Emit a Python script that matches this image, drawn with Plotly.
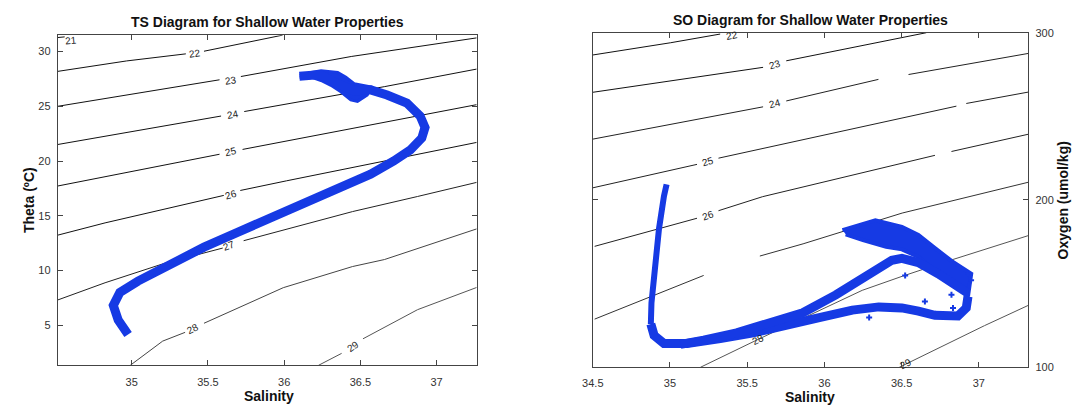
import math
import plotly.graph_objects as go

# ---------------- data ----------------
# TS diagram: salinity / potential temperature profile (deep -> surface)
ts_salinity = [34.976, 34.911, 34.879, 34.922, 35.041, 35.258, 35.474, 35.69, 35.907, 36.123,
               36.34, 36.567, 36.719, 36.827, 36.903, 36.924, 36.892, 36.805, 36.675, 36.567,
               36.46, 36.37, 36.30, 36.24, 36.18, 36.10]
ts_theta = [4.15, 5.48, 6.81, 7.99, 9.03, 10.65, 12.13, 13.46, 14.8, 16.13,
            17.46, 18.8, 20.0, 21.0, 22.1, 23.07, 24.11, 25.29, 26.03, 26.5,
            26.4, 26.9, 27.4, 27.9, 27.8, 27.75]
# outline of the dense near-surface cluster on the TS diagram
ts_blob_salinity = [36.102, 36.177, 36.242, 36.351, 36.405, 36.459, 36.567, 36.545, 36.481,
                    36.437, 36.372, 36.307, 36.242, 36.177, 36.102]
ts_blob_theta = [27.80, 28.10, 28.25, 28.10, 27.66, 27.07, 26.77, 26.03, 25.44,
                 25.59, 26.33, 26.92, 27.36, 27.66, 27.66]

# SO diagram: surface lobe outline (upper edge, then inner edge back)
so_lobe_salinity = [36.117, 36.33, 36.502, 36.609, 36.716, 36.823, 36.951, 36.93,
                    36.908, 36.823, 36.694, 36.609, 36.502, 36.40, 36.25, 36.138]
so_lobe_oxygen = [182.0, 187.8, 183.9, 179.1, 171.3, 163.6, 155.9, 142.3,
                  146.2, 152.0, 159.5, 166.0, 170.5, 172.0, 176.0, 179.5]
# first cast: lower arm down to the deep stem
so_lower_salinity = [36.93, 36.919, 36.865, 36.716, 36.609, 36.502, 36.352, 36.181, 35.967,
                     35.753, 35.539, 35.325, 35.111, 34.961, 34.897, 34.876]
so_lower_oxygen = [142.3, 135.5, 130.7, 131.1, 133.6, 135.5, 136.1, 134.2, 129.7,
                   124.9, 120.6, 117.2, 114.2, 114.2, 119.1, 125.9]
so_stem_salinity = [34.876, 34.88, 34.897, 34.929, 34.961, 34.978]
so_stem_oxygen = [125.9, 138.4, 153.9, 183.0, 202.3, 209.3]
# second cast (middle arm)
so_middle_salinity = [36.93, 36.844, 36.737, 36.609, 36.502, 36.437, 36.288, 36.074, 35.86,
                      35.646, 35.432, 35.218, 35.068]
so_middle_oxygen = [144.2, 150.1, 155.9, 162.6, 165.1, 164.0, 154.9, 143.3, 132.6,
                    125.9, 120.6, 116.2, 113.7]
# isolated samples
so_extra_salinity = [36.29, 36.93, 36.651, 36.823, 36.833, 36.523, 36.95]
so_extra_oxygen = [129.7, 155.9, 139.4, 143.3, 135.5, 154.9, 152.0]

# sigma-theta isopycnals on the TS diagram (salinity, theta); None = break for label
ts_sig21 = [(34.515, 31.28), (34.56, 31.34)]
ts_sig22 = [(34.515, 28.19), (34.965, 29.14), (35.355, 29.79), None, (35.474, 30.03), (35.99, 31.5)]
ts_sig23 = [(34.515, 25.0), (35.074, 26.24), (35.576, 27.42), None, (35.716, 27.72),
            (36.44, 29.55), (37.263, 31.25)]
ts_sig24 = [(34.515, 21.51), (35.586, 24.11), None, (35.738, 24.52), (36.66, 26.8), (37.263, 28.4)]
ts_sig25 = [(34.515, 17.72), (35.576, 20.62), None, (35.727, 21.06), (36.90, 24.17), (37.263, 25.15)]
ts_sig26 = [(34.515, 13.23), (34.825, 14.35), (35.604, 16.86), None, (35.712, 17.31),
            (36.015, 18.19), (37.263, 21.7)]
ts_sig27 = [(34.515, 7.31), (34.825, 8.88), (35.214, 10.65), (35.597, 12.05), None,
            (35.734, 12.72), (36.448, 15.38), (36.875, 16.76), (37.263, 18.05)]
ts_sig28 = [(34.99, 1.335), (35.143, 2.87), (35.203, 3.55), (35.35, 4.35), None, (35.474, 5.18),
            (35.994, 8.43), (36.448, 10.36), (36.658, 11.0), (37.263, 13.8)]
ts_sig29 = [(36.225, 1.335), (36.377, 2.43), None, (36.517, 3.76), (36.875, 6.42), (37.263, 8.45)]
ts_label_text = ["21", "22", "23", "24", "25", "26", "27", "28", "29"]
ts_label_salinity = [34.60, 35.413, 35.65, 35.662, 35.651, 35.652, 35.64, 35.405, 36.45]
ts_label_theta = [31.05, 29.82, 27.35, 24.27, 20.86, 16.95, 12.25, 4.68, 3.08]

# isopycnals as drawn on the SO diagram (salinity, oxygen)
so_sig22 = [(34.501, 286.7), (35.004, 294.0), (35.325, 299.2)]
so_sig23 = [(34.501, 264.4), (35.603, 279.3), None, (35.753, 283.2), (36.352, 294.4),
            (36.512, 297.3), (36.66, 300.0)]
so_sig24 = [(34.501, 236.4), (35.603, 255.7), None, (35.753, 259.2), (36.35, 272.1), None,
            (36.545, 275.0), (37.32, 287.6)]
so_sig25 = [(34.501, 207.3), (35.175, 221.3), None, (35.314, 225.0), (36.855, 256.1), None,
            (36.919, 257.7), (37.32, 264.5)]
so_sig26 = [(34.512, 172.3), (35.175, 189.1), None, (35.314, 193.6), (35.60, 202.0),
            (36.716, 226.7), None, (36.823, 229.0), (37.32, 239.3)]
so_sig27 = [(34.512, 128.8), (35.218, 154.9), None, (35.582, 166.5), (35.862, 173.8),
            (36.504, 192.2), (36.951, 202.3), (37.32, 210.6)]
so_sig28 = [(35.197, 100.0), (35.56, 116.2), (36.245, 146.0), (36.507, 154.5), (36.79, 163.2),
            (37.32, 178.7)]
so_sig29 = [(36.485, 100.0), (37.037, 124.9), (37.32, 137.0)]
so_label_text = ["22", "23", "24", "25", "26", "28", "29"]
so_label_salinity = [35.40, 35.678, 35.678, 35.245, 35.245, 35.57, 36.53]
so_label_oxygen = [298.6, 281.0, 257.6, 223.0, 191.0, 116.8, 102.0]

ts_xticks = [35, 35.5, 36, 36.5, 37]
ts_yticks = [5, 10, 15, 20, 25, 30]
so_xticks = [34.5, 35, 35.5, 36, 36.5, 37]
so_yticks = [100, 200, 300]

# ---------------- layout geometry ----------------
W, H = 1076, 417
FONT = "Liberation Sans, Arial, Helvetica, sans-serif"
BLUE = "rgb(22,58,228)"

L_px = (47.3, 470.5, 30.0, 370.0)      # left, right, top, bottom in pixels
R_px = (587.8, 1027.7, 27.5, 372.0)
L_xr, L_yr = [34.515, 37.263], [1.335, 31.5]
R_xr, R_yr = [34.5, 37.32], [100, 300]


def dom(px):
    l, r, t, b = px
    return [l / W, r / W], [1 - b / H, 1 - t / H]


Lxd, Lyd = dom(L_px)
Rxd, Ryd = dom(R_px)

fig = go.Figure()


def split_xy(pts):
    xs, ys = [], []
    for p in pts:
        if p is None:
            xs.append(None)
            ys.append(None)
        else:
            xs.append(p[0])
            ys.append(p[1])
    return xs, ys


def add_iso(pts, xa, ya, color):
    xs, ys = split_xy(pts)
    fig.add_trace(go.Scatter(x=xs, y=ys, mode="lines", xaxis=xa, yaxis=ya,
                             line=dict(color=color, width=1), hoverinfo="skip",
                             connectgaps=False))


for pts, col in [(ts_sig21, "#111"), (ts_sig22, "#111"), (ts_sig23, "#111"), (ts_sig24, "#111"),
                 (ts_sig25, "#111"), (ts_sig26, "#111"), (ts_sig27, "#222"), (ts_sig28, "#444"),
                 (ts_sig29, "#555")]:
    add_iso(pts, "x", "y", col)
for pts, col in [(so_sig22, "#111"), (so_sig23, "#111"), (so_sig24, "#222"), (so_sig25, "#222"),
                 (so_sig26, "#222"), (so_sig27, "#333"), (so_sig28, "#555"), (so_sig29, "#555")]:
    add_iso(pts, "x2", "y2", col)

# data
fig.add_trace(go.Scatter(x=ts_blob_salinity, y=ts_blob_theta, mode="lines", fill="toself",
                         fillcolor=BLUE, xaxis="x", yaxis="y",
                         line=dict(color=BLUE, width=3)))
fig.add_trace(go.Scatter(x=ts_salinity, y=ts_theta, mode="lines", xaxis="x", yaxis="y",
                         line=dict(color=BLUE, width=9)))
fig.add_trace(go.Scatter(x=so_lobe_salinity, y=so_lobe_oxygen, mode="lines", fill="toself",
                         fillcolor=BLUE, xaxis="x2", yaxis="y2",
                         line=dict(color=BLUE, width=4)))
fig.add_trace(go.Scatter(x=so_lower_salinity, y=so_lower_oxygen, mode="lines", xaxis="x2", yaxis="y2",
                         line=dict(color=BLUE, width=9)))
fig.add_trace(go.Scatter(x=so_middle_salinity, y=so_middle_oxygen, mode="lines", xaxis="x2", yaxis="y2",
                         line=dict(color=BLUE, width=9)))
fig.add_trace(go.Scatter(x=so_stem_salinity, y=so_stem_oxygen, mode="lines", xaxis="x2", yaxis="y2",
                         line=dict(color=BLUE, width=6)))
fig.add_trace(go.Scatter(x=so_extra_salinity, y=so_extra_oxygen, mode="markers", xaxis="x2", yaxis="y2",
                         marker=dict(color=BLUE, size=5, symbol="cross")))


# contour labels, rotated along their line
def label_angle(pts, s0, xr, yr, px):
    ppx = (px[1] - px[0]) / (xr[1] - xr[0])
    ppy = (px[3] - px[2]) / (yr[1] - yr[0])
    real = [p for p in pts if p is not None]
    below = [p for p in real if p[0] <= s0]
    above = [p for p in real if p[0] > s0]
    if below and above:
        a, b = below[-1], above[0]
    else:
        a, b = real[-2], real[-1]
    slope = (b[1] - a[1]) / (b[0] - a[0])
    return -math.degrees(math.atan(slope * ppy / ppx))


ts_sets = [ts_sig21, ts_sig22, ts_sig23, ts_sig24, ts_sig25, ts_sig26, ts_sig27, ts_sig28, ts_sig29]
so_sets = [so_sig22, so_sig23, so_sig24, so_sig25, so_sig26, so_sig28, so_sig29]

ann = []
for txt, s, t, pts in zip(ts_label_text, ts_label_salinity, ts_label_theta, ts_sets):
    ann.append(dict(x=s, y=t, xref="x", yref="y", text=txt, showarrow=False,
                    textangle=label_angle(pts, s, L_xr, L_yr, L_px),
                    font=dict(family=FONT, size=10, color="#222")))
for txt, s, o, pts in zip(so_label_text, so_label_salinity, so_label_oxygen, so_sets):
    ann.append(dict(x=s, y=o, xref="x2", yref="y2", text=txt, showarrow=False,
                    textangle=label_angle(pts, s, R_xr, R_yr, R_px),
                    font=dict(family=FONT, size=10, color="#222")))


# titles and axis titles
def paper(px, py):
    return px / W, 1 - py / H


for txt, (px, py), ang in [
    ("TS Diagram for Shallow Water Properties", (259, 16), 0),
    ("SO Diagram for Shallow Water Properties", (808, 14), 0),
    ("Salinity", (261, 402), 0),
    ("Salinity", (807, 403), 0),
    ("Theta (ºC)", (18, 200), -90),
    ("Oxygen (umol/kg)", (1063, 200), -90),
]:
    x, y = paper(px, py)
    ann.append(dict(x=x, y=y, xref="paper", yref="paper", text="<b>%s</b>" % txt, showarrow=False,
                    textangle=ang, xanchor="center", yanchor="middle",
                    font=dict(family=FONT, size=14, color="#111")))

axis_common = dict(showgrid=False, zeroline=False, showline=True, linecolor="#444", linewidth=1,
                   ticks="inside", ticklen=5, tickcolor="#444", mirror="ticks",
                   tickfont=dict(family=FONT, size=11, color="#333"))

fig.update_layout(
    width=W, height=H, margin=dict(l=0, r=0, t=0, b=0),
    paper_bgcolor="white", plot_bgcolor="white", showlegend=False,
    xaxis=dict(domain=Lxd, range=L_xr, tickvals=ts_xticks, ticktext=[str(v) for v in ts_xticks],
               anchor="y", ticklabelstandoff=6, **axis_common),
    yaxis=dict(domain=Lyd, range=L_yr, tickvals=ts_yticks, anchor="x", ticklabelstandoff=4,
               **axis_common),
    xaxis2=dict(domain=Rxd, range=R_xr, tickvals=so_xticks, ticktext=[str(v) for v in so_xticks],
                anchor="y2", ticklabelstandoff=6, **axis_common),
    yaxis2=dict(domain=Ryd, range=R_yr, tickvals=so_yticks, anchor="x2", side="right",
                ticklabelstandoff=4, **axis_common),
    annotations=ann,
)

fig.write_html("out.html")
